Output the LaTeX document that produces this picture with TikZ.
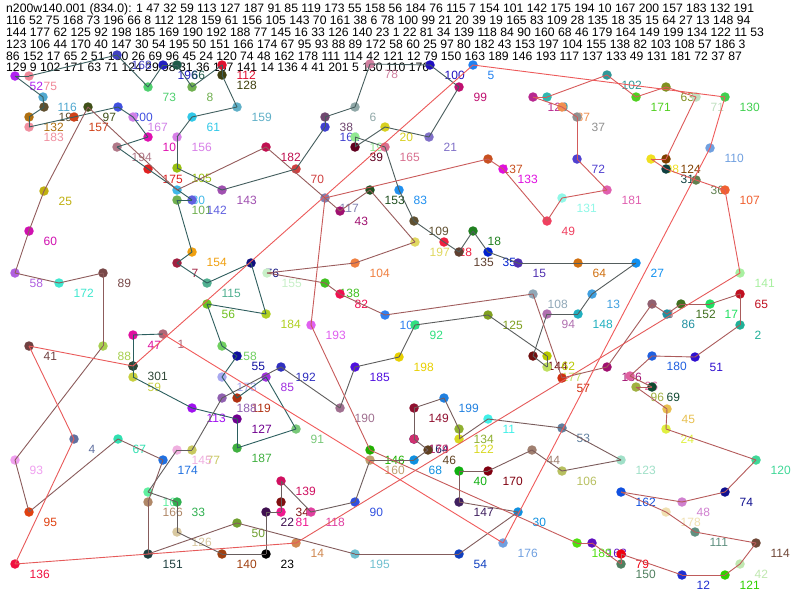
\documentclass[tikz,border=0pt]{standalone}
\usepackage{fontspec}
\setmainfont{Liberation Sans}
\begin{document}
\begin{tikzpicture}[x=1pt,y=-1pt,
  hdr/.style={anchor=base west, inner sep=0pt, font=\fontsize{12.2}{14}\selectfont},
  lbl/.style={anchor=base west, inner sep=0pt, font=\fontsize{12}{14}\selectfont},
  dot/.style={circle, inner sep=0pt, minimum size=9.5pt},
  edge/.style={line width=0.9pt}]
\definecolor{tealc}{HTML}{2A5E5E}
\definecolor{salm}{HTML}{F05A5A}
\useasboundingbox (0,0) rectangle (800,600);
\fill[white] (0,0) rectangle (800,600);
\node[hdr] (h1) at (6,12.8) {n200w140.001 (834.0): 1 47 32 59 113 127 187 91 85 119 173 55 158 56 184 76 115 7 154 101 142 175 194 10 167 200 157 183 132 191};
\node[hdr] (h2) at (6,24.6) {116 52 75 168 73 196 66 8 112 128 159 61 156 105 143 70 161 38 6 78 100 99 21 20 39 19 165 83 109 28 135 18 35 15 64 27 13 148 94};
\node[hdr] (h3) at (6,36.4) {144 177 62 125 92 198 185 169 190 192 188 77 145 16 33 126 140 23 1 22 81 34 139 118 84 90 160 68 46 179 164 149 199 134 122 11 53};
\node[hdr] (h4) at (6,48.2) {123 106 44 170 40 147 30 54 195 50 151 166 174 67 95 93 88 89 172 58 60 25 97 80 182 43 153 197 104 155 138 82 103 108 57 186 3};
\node[hdr] (h5) at (6,60) {86 152 17 65 2 51 180 26 69 96 45 24 120 74 48 162 178 111 114 42 121 12 79 150 163 189 146 193 117 137 133 49 131 181 72 37 87};
\node[hdr] (h6) at (6,71.8) {129 9 102 171 63 71 124 29 98 31 36 107 141 14 136 4 41 201 5 130 110 176};
\def\nodelist{1/163/334/B06878, 47/133/335/E010A0, 32/133/366/304838, 59/133/377/C8D040,
113/192/408/A010F0, 127/237/419/700090, 187/237/448/40B040, 91/296/429/78C878,
85/266/377/A030E0, 119/237/398/B03010, 173/222/377/A8A8F0, 55/237/356/1010A0,
158/222/346/70D060, 56/207/304/70C020, 184/266/314/B0D020, 76/251/263/101080,
115/207/283/50B090, 7/177/263/A02040, 154/192/252/F0A010, 101/177/200/70B050,
142/192/200/6060E0, 175/148/169/E02020, 194/117/147/B07888, 10/148/137/E010B0,
167/133/117/D080E8, 200/118/107/4050E0, 157/74/117/D04018, 183/29/127/F090A0,
132/29/117/B07010, 191/44/107/605030, 116/43/97/50A8D0, 52/15/76/B020F0,
75/29/76/F08898, 168/117/55/4040C0, 73/148/87/50D070, 196/163/65/2020C0,
66/177/65/1E5A4A, 8/192/87/70B050, 112/222/65/E01030, 128/222/75/404010,
159/237/107/60B0C8, 61/192/117/30C8E8, 156/177/137/D880E8, 105/177/168/98C010,
143/222/190/A050B0, 70/296/169/D04040, 161/325/127/4040D0, 38/325/117/704870,
6/355/107/90A8A8, 78/370/64/D080A0, 100/430/65/2010C0, 99/459/87/C01070,
21/429/137/8070C8, 20/385/127/D8D020, 39/355/147/600020, 19/355/137/90E890,
165/385/147/D87090, 83/399/190/2090F0, 109/414/221/605030, 28/444/242/F02040,
135/459/252/604030, 18/473/231/208020, 35/488/252/0020D0, 15/518/263/5030B0,
64/578/263/D07010, 27/636/263/1090F0, 13/592/294/40A0E0, 148/578/314/20B0C0,
94/547/314/B070B0, 144/533/356/701010, 177/547/367/C0E060, 62/547/356/B8C800,
125/488/315/80A020, 92/415/325/30E080, 198/399/357/E8D000, 185/355/367/5010E0,
190/340/408/A07090, 192/281/367/3030C0, 188/222/398/9060B0, 77/192/450/C8C860,
145/177/450/F0B0E0, 16/148/492/60F0A0, 33/177/502/30B050, 126/177/532/D8C8A0,
140/222/554/A04010, 23/266/554/000000, 22/266/512/401050, 81/281/512/F01890,
34/281/502/801010, 139/281/481/D01060, 118/311/512/E040A0, 90/355/502/3050E0,
160/370/460/C0A070, 68/414/460/1090E0, 46/428/450/604020, 164/414/439/202060,
179/414/439/D03070, 149/414/408/901030, 199/444/398/2080E0, 134/459/429/90B030,
122/459/439/D8D820, 11/488/419/40F0E8, 53/562/428/6080A0, 123/621/460/A0E0C8,
106/562/471/B8C060, 44/532/450/A08070, 170/488/471/800010, 40/459/471/10B010,
147/459/502/402060, 30/518/512/1090E0, 54/459/554/1040C0, 195/355/554/70C0D0,
50/237/523/70A030, 151/148/554/204040, 166/148/502/B08868, 174/163/460/2070E0,
67/118/439/30E0B0, 95/29/512/E04010, 93/15/460/F0A0F0, 88/103/346/A8D050,
89/103/273/784848, 172/59/283/40E8D0, 58/15/273/B060E0, 60/29/231/D010B0,
25/44/191/C0B010, 97/88/107/405018, 80/177/190/40B8E8, 182/266/147/C01050,
43/340/211/A01070, 153/370/190/205020, 197/415/242/E0D860, 104/355/263/F08040,
155/267/273/C8F0C8, 138/325/283/40C020, 82/340/294/F01050, 103/385/315/3080F0,
108/533/294/90A8B8, 57/562/378/D03010, 186/607/367/A01070, 3/652/304/906070,
86/667/314/2090A0, 152/681/304/407020, 17/710/304/20E060, 65/740/294/C01020,
2/740/325/20B098, 51/695/357/3010D0, 180/652/356/2060E0, 26/630/376/E060A0,
69/652/387/104830, 96/636/387/A0B040, 45/667/409/E8C050, 24/666/429/E0F040,
120/756/460/40D898, 74/725/492/101090, 48/682/502/D080D0, 162/621/492/1050E0,
178/666/512/F0E0B0, 111/695/532/609080, 114/756/543/704838, 42/740/564/C0E8B0,
121/725/575/30D000, 12/682/575/2030D0, 79/621/554/F00010, 150/621/564/508060,
163/592/543/6010C0, 189/577/543/50E010, 146/370/450/20B000, 193/311/325/E060F0,
117/325/198/8080B0, 137/488/159/C85020, 133/503/169/E010E0, 49/547/221/F04060,
131/562/198/90F8E8, 181/607/190/E060B0, 72/577/159/5040D0, 37/577/117/909090,
87/562/107/F09050, 129/533/97/B82890, 9/547/97/30B8B0, 102/607/75/309898,
171/636/97/50D020, 63/666/87/809020, 71/696/97/C0E0C0, 124/666/159/804000,
98/651/159/F0E020, 31/666/169/104040, 36/696/180/608050, 107/725/190/F06030,
141/740/273/A8F0A0, 14/296/543/D08850, 136/15/564/F01040, 4/74/439/6070A0,
41/29/346/704040, 5/473/65/2080F0, 130/725/97/40D050, 110/710/148/70A0E0,
176/503/543/70A0E0}
% labels
\foreach \i/\x/\y/\hx in \nodelist {
  \definecolor{tmpc}{HTML}{\hx}
  \node[lbl, text=tmpc] (l\i) at (\x+14.5,\y+14.3) {\ifnum\i=32 301\else\i\fi};
}
% dots
\node[dot, fill={rgb,255:red,48;green,72;blue,56}] (d201) at (133,366) {};
\foreach \i/\x/\y/\hx in \nodelist {
  \definecolor{tmpc}{HTML}{\hx}
  \node[dot, fill=tmpc] (d\i) at (\x,\y) {};
}
% tour
\foreach \b [count=\k, remember=\b as \a (initially 1)] in {47,32,59,113,127,187,91,85,119,173,55,158,56,184,76,115,7,154,101,142,175,194,10,167,200,157,183,132,191,116,52,75,168,73,196,66,8,112,128,159,61,156,105,143,70,161,38,6,78,100,99,21,20,39,19,165,83,109,28,135,18,35,15,64,27,13,148,94,144,177,62,125,92,198,185,190,192,188,77,145,16,33,126,140,23,22,81,34,139,118,90,160,68,46,179,164,149,199,134,122,11,53,123,106,44,170,40,147,30,54,195,50,151,166,174,67,95,93,88,89,172,58,60,25,97,80,182,43,153,197,104,155,138,82,103,108,57,186,3,86,152,17,65,2,51,180,26,69,96,45,24,120,74,48,162,178,111,114,42,121,12,79,150,163,189,146,193,117,137,133,49,131,181,72,37,87,129,9,102,171,63,71,124,98,31,36,107,141,14,136,4,41,201,5,130,110,176,1} {
  \pgfmathsetmacro\pp{100*exp(1.4*ln(\k/197))}
  \draw[edge, draw=salm!\pp!tealc] (d\a.center) -- (d\b.center);
}
\end{tikzpicture}
\end{document}
